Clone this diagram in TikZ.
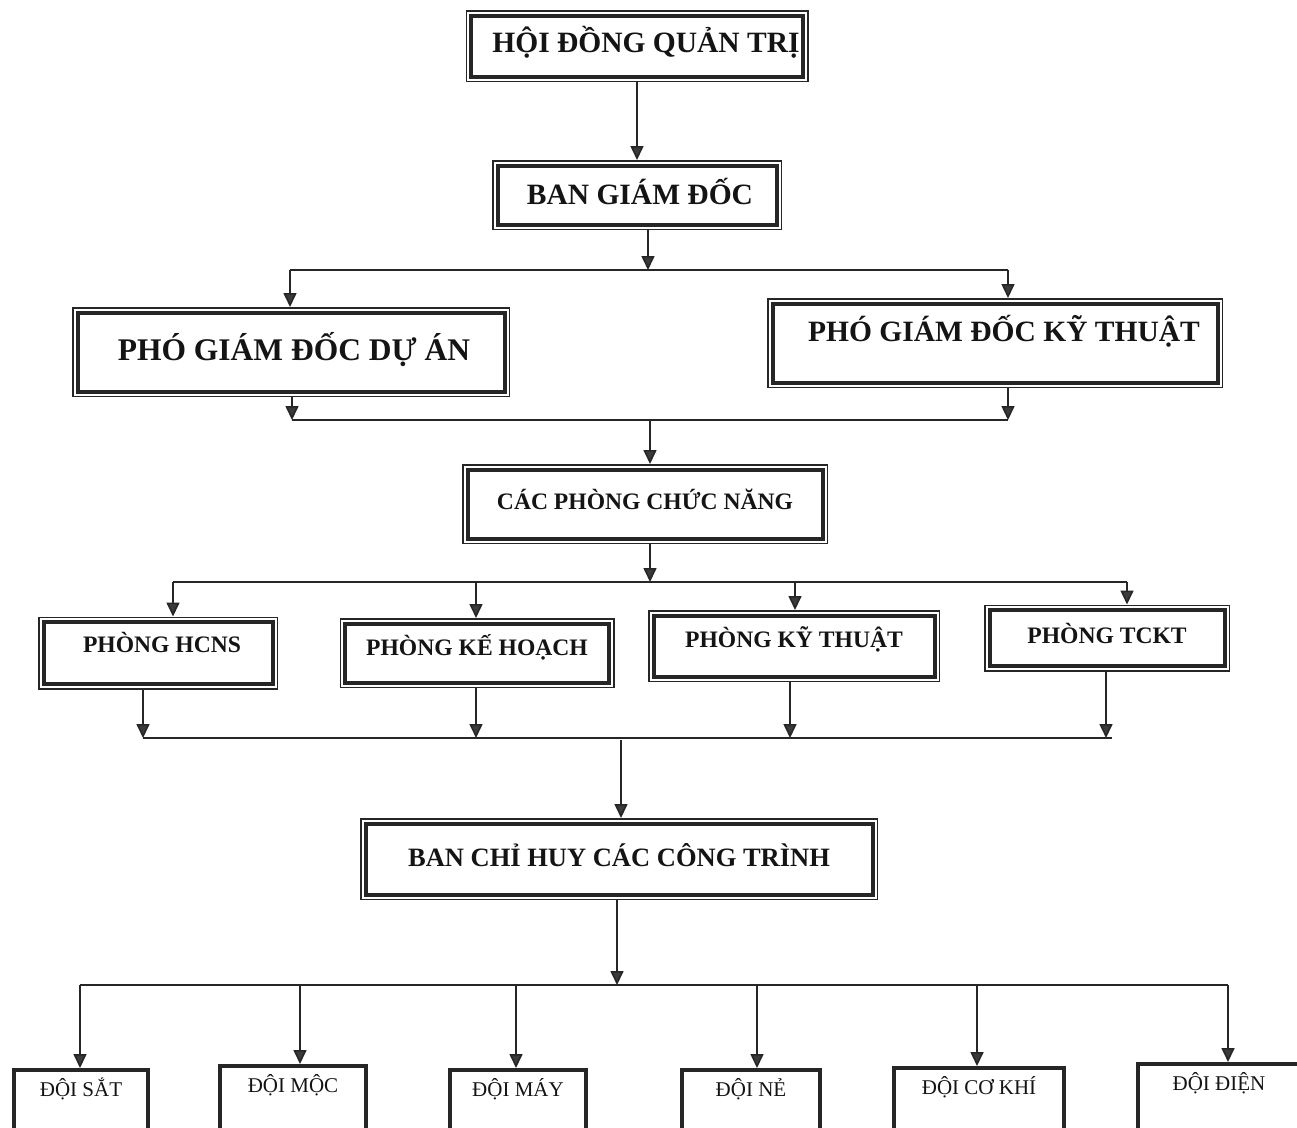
\documentclass[tikz,border=0pt]{standalone}
\usepackage{fontspec}
\setmainfont{Liberation Serif}
\usetikzlibrary{arrows.meta}
\definecolor{background}{RGB}{255, 255, 255}
\definecolor{mainline}{HTML}{262626}
\definecolor{arrowfill}{HTML}{3A3A3A}
\definecolor{mainfont}{HTML}{141414}
\newcommand{\boardfont}{\fontsize{29.5}{32}\selectfont\bfseries}
\newcommand{\deputyfont}{\fontsize{31.5}{34}\selectfont\bfseries}
\newcommand{\deptfont}{\fontsize{23.6}{26}\selectfont\bfseries}
\newcommand{\sitefont}{\fontsize{26.5}{29}\selectfont\bfseries}
\newcommand{\teamfont}{\fontsize{21}{24}\selectfont}
\tikzset{
	framebox/.style={draw=mainline, line width=4pt, inner sep=0pt, outer sep=5.5pt,
		preaction={draw=mainline, line width=11pt},
		preaction={draw=background, line width=8pt},
		fill=background, text=mainfont},
	teambox/.style={draw=mainline, line width=3.5pt, inner sep=0pt, outer sep=1.75pt,
		anchor=north, text=mainfont, font=\teamfont, text height=27pt, text depth=80pt},
	link/.style={draw=mainline, line width=1.6pt},
	arrow/.style={link, -{Triangle[length=14pt,width=13pt,fill=arrowfill]}}
}
\begin{document}
\begin{tikzpicture}[x=1pt,y=-1pt]
				% Boundary box
				\path[use as bounding box, fill=background] (0,0) rectangle (1297,1127);
				\clip (0,0) rectangle (1297,1127);

				% Boxes
				% Board and directors
				\node[framebox, font=\boardfont, minimum width=332pt, minimum height=61pt, text height=19.5pt] (hdqt) at (637,46) {\hspace*{18pt}HỘI ĐỒNG QUẢN TRỊ};
				\node[framebox, font=\boardfont, minimum width=279pt, minimum height=59pt, text height=19.5pt] (bgd) at (637,195) {\hspace*{6pt}BAN GIÁM ĐỐC};

				% Deputies
				\node[framebox, font=\deputyfont, minimum width=427pt, minimum height=79pt, text height=20.9pt, text depth=4pt] (pgdda) at (291,352) {\hspace*{6pt}PHÓ GIÁM ĐỐC DỰ ÁN};
				\node[framebox, font=\boardfont, minimum width=445pt, minimum height=79pt, text height=19.5pt, text depth=22pt] (pgdkt) at (995,343) {\hspace*{18pt}PHÓ GIÁM ĐỐC KỸ THUẬT};

				% Departments
				\node[framebox, font=\deptfont, minimum width=355pt, minimum height=69pt, text height=15.6pt, text depth=4pt] (cpcn) at (645,504) {CÁC PHÒNG CHỨC NĂNG};
				\node[framebox, font=\deptfont, minimum width=229pt, minimum height=62pt, text height=15.6pt, text depth=16pt] (hcns) at (158,653) {\hspace*{8pt}PHÒNG HCNS};
				\node[framebox, font=\deptfont, minimum width=264pt, minimum height=59pt, text height=15.6pt, text depth=10pt] (kh) at (477,653) {PHÒNG KẾ HOẠCH};
				\node[framebox, font=\deptfont, minimum width=281pt, minimum height=61pt, text height=15.6pt, text depth=12pt] (kt) at (794,646) {PHÒNG KỸ THUẬT};
				\node[framebox, font=\deptfont, minimum width=235pt, minimum height=56pt, text height=15.6pt, text depth=4pt] (tckt) at (1107,638) {PHÒNG TCKT};

				% Site command
				\node[framebox, font=\sitefont, minimum width=507pt, minimum height=71pt, text height=17.5pt, text depth=2pt] (bch) at (619,859) {BAN CHỈ HUY CÁC CÔNG TRÌNH};

				% Teams (cut off by the page edge)
				\node[teambox, minimum width=134pt] (sat) at (81,1068) {ĐỘI SẮT};
				\node[teambox, minimum width=146pt] (moc) at (293,1064) {ĐỘI MỘC};
				\node[teambox, minimum width=136pt] (may) at (518,1068) {ĐỘI MÁY};
				\node[teambox, minimum width=138pt] (ne) at (751,1068) {ĐỘI NẺ};
				\node[teambox, minimum width=170pt] (cokhi) at (979,1066) {ĐỘI CƠ KHÍ};
				\node[teambox, minimum width=162pt] (dien) at (1219,1062) {ĐỘI ĐIỆN};

				% Connectors
				% Board to directors
				\draw[arrow] (hdqt) -- (bgd);

				% Directors to deputies
				\coordinate (busa) at (648,270);
				\coordinate (busal) at (290,270);
				\coordinate (busar) at (1008,270);
				\draw[arrow] (bgd.south -| busa) -- (busa);
				\draw[link] (busal) -- (busar);
				\draw[arrow] (busal) -- (busal |- pgdda.north);
				\draw[arrow] (busar) -- (busar |- pgdkt.north);

				% Deputies to departments
				\coordinate (busb) at (650,420);
				\coordinate (busbl) at (292,420);
				\coordinate (busbr) at (1008,420);
				\draw[arrow] (busbl |- pgdda.south) -- (busbl);
				\draw[arrow] (busbr |- pgdkt.south) -- (busbr);
				\draw[link] (busbl) -- (busbr);
				\draw[arrow] (busb) -- (busb |- cpcn.north);

				% Departments to each office
				\coordinate (busc) at (650,582);
				\draw[arrow] (busc |- cpcn.south) -- (busc);
				\draw[link] (173,582) -- (1127,582);
				\foreach \x/\n in {173/hcns,476/kh,795/kt,1127/tckt}{
					\coordinate (c\n) at (\x,582);
					\draw[arrow] (c\n) -- (c\n |- \n.north);
				}

				% Offices to site command
				\foreach \x/\n in {143/hcns,476/kh,790/kt,1106/tckt}{
					\coordinate (d\n) at (\x,738);
					\draw[arrow] (d\n |- \n.south) -- (d\n);
				}
				\draw[link] (143,738) -- (1112,738);
				\coordinate (busd) at (621,740);
				\draw[arrow] (busd) -- (busd |- bch.north);

				% Site command to teams
				\coordinate (buse) at (617,985);
				\draw[arrow] (buse |- bch.south) -- (buse);
				\draw[link] (80,985) -- (1228,985);
				\foreach \x/\n in {80/sat,300/moc,516/may,757/ne,977/cokhi,1228/dien}{
					\coordinate (e\n) at (\x,985);
					\draw[arrow] (e\n) -- (e\n |- \n.north);
				}
\end{tikzpicture}
\end{document}
